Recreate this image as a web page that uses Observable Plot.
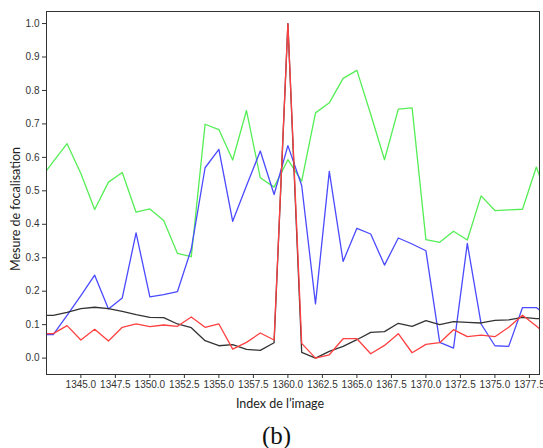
<!DOCTYPE html>
<html><head><meta charset="utf-8">
<script src="https://cdn.jsdelivr.net/npm/d3@7"></script>
<script src="https://cdn.jsdelivr.net/npm/@observablehq/plot@0.6"></script>
<style>
body{margin:0;background:#fff;width:543px;height:448px;overflow:hidden}
#chart svg{display:block}
#cap{width:543px;box-sizing:border-box;padding-left:10px;padding-top:6px;text-align:center;font-family:"Liberation Serif","DejaVu Serif",serif;font-size:25px;line-height:28px;color:#111}
</style>
</head><body><div id="chart"></div><div id="cap">(b)</div>
<script>
const idx = [1342,1343,1344,1345,1346,1347,1348,1349,1350,1351,1352,1353,1354,1355,1356,1357,1358,1359,1360,1361,1362,1363,1364,1365,1366,1367,1368,1369,1370,1371,1372,1373,1374,1375,1376,1377,1378,1379];
const green = [0.533,0.587,0.641,0.552,0.444,0.526,0.555,0.436,0.446,0.411,0.313,0.303,0.699,0.683,0.592,0.740,0.539,0.511,0.593,0.529,0.733,0.763,0.836,0.860,0.729,0.593,0.744,0.748,0.354,0.346,0.379,0.353,0.485,0.441,0.443,0.445,0.571,0.46];
const blue = [0.070,0.070,0.128,0.187,0.248,0.147,0.180,0.374,0.183,0.190,0.199,0.326,0.569,0.624,0.409,0.515,0.619,0.489,0.635,0.516,0.162,0.558,0.289,0.388,0.371,0.278,0.359,0.341,0.321,0.047,0.030,0.343,0.102,0.037,0.035,0.151,0.151,0.12];
const red = [0.073,0.073,0.097,0.054,0.086,0.051,0.092,0.102,0.094,0.099,0.095,0.123,0.092,0.102,0.027,0.047,0.075,0.054,1.0,0.044,0.0,0.010,0.058,0.058,0.013,0.038,0.073,0.016,0.041,0.046,0.085,0.064,0.069,0.064,0.092,0.128,0.096,0.06];
const black = [0.127,0.128,0.137,0.148,0.152,0.148,0.140,0.130,0.122,0.121,0.102,0.091,0.052,0.037,0.040,0.026,0.023,0.046,1.0,0.017,0.0,0.020,0.035,0.055,0.077,0.079,0.104,0.095,0.112,0.100,0.109,0.107,0.105,0.113,0.114,0.122,0.118,0.118];
const xTicks = [1345.0,1347.5,1350.0,1352.5,1355.0,1357.5,1360.0,1362.5,1365.0,1367.5,1370.0,1372.5,1375.0,1377.5];
const yTicks = [0.0,0.1,0.2,0.3,0.4,0.5,0.6,0.7,0.8,0.9,1.0];
const xLabel = "Index de l’image";
const yLabel = "Mesure de focalisation";

const fmt = d3.format(".1f");
const chart = Plot.plot({
  width: 543, height: 416,
  marginTop: 11, marginLeft: 46, marginRight: 4, marginBottom: 42,
  x: {domain: [1342.51, 1378.23]},
  y: {domain: [-0.049, 1.036]},
  style: {fontFamily: "'Liberation Sans', Arial, sans-serif", fontSize: "10px", color: "#333", background: "#fff"},
  marks: [
    Plot.axisX({ticks: xTicks, tickFormat: fmt, tickSize: 4, tickPadding: 2, label: xLabel, labelAnchor: "center", labelArrow: "none", labelOffset: 33}),
    Plot.axisY({ticks: yTicks, tickFormat: fmt, tickSize: 4, tickPadding: 3, label: yLabel, labelAnchor: "center", labelArrow: "none", labelOffset: 35}),
    Plot.lineY(green, {x: idx, stroke: "#55ee55", strokeWidth: 1.3, clip: true}),
    Plot.lineY(blue, {x: idx, stroke: "#4a4aff", strokeWidth: 1.3, clip: true}),
    Plot.lineY(black, {x: idx, stroke: "#333333", strokeWidth: 1.3, clip: true}),
    Plot.lineY(red, {x: idx, stroke: "#ff4040", strokeWidth: 1.3, clip: true}),
    Plot.frame({stroke: "#333"})
  ]
});
document.getElementById("chart").appendChild(chart);
const xl = d3.select(chart).select('[aria-label="x-axis label"]');
const yl = d3.select(chart).select('[aria-label="y-axis label"]');
[xl, yl].forEach(g => g.attr("font-family", "Lato, 'Open Sans', sans-serif").attr("font-size", "12.5px").attr("fill", "#222"));
xl.attr("transform", (xl.attr("transform") || "") + " translate(-13,0)");
yl.attr("transform", (yl.attr("transform") || "") + " translate(0,16)");
</script>
</body></html>
